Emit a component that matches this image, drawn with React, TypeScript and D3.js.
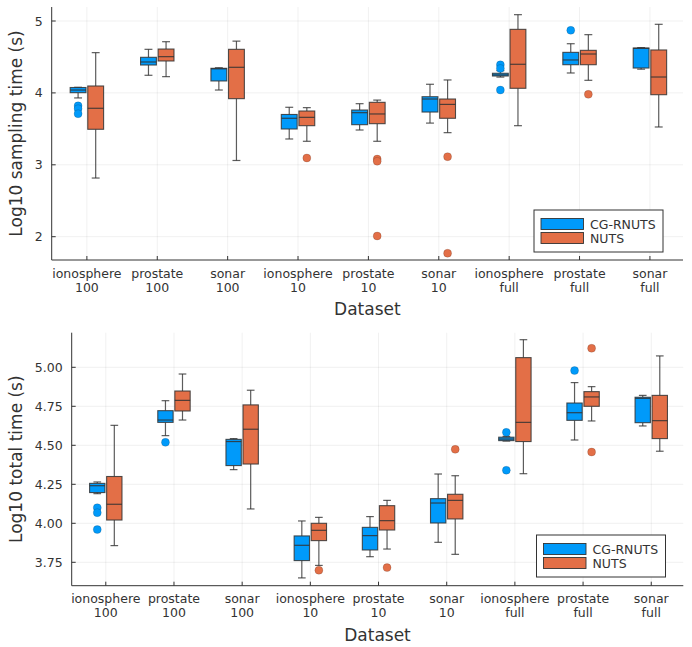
import React from "react";
import * as d3 from "d3";

// ---------- data ----------
const datasets = ["ionosphere", "prostate", "sonar", "ionosphere", "prostate", "sonar", "ionosphere", "prostate", "sonar"];
const sizes = ["100", "100", "100", "10", "10", "10", "full", "full", "full"];
const seriesNames = ["CG-RNUTS", "NUTS"];
const seriesColors = ["#009AFA", "#E36F47"];

// [whiskerLow, q1, median, q3, whiskerHigh]
const samplingCG: number[][] = [
  [3.93, 4.003, 4.04, 4.075, 4.078],
  [4.245, 4.388, 4.43, 4.495, 4.606],
  [4.04, 4.166, 4.335, 4.342, 4.35],
  [3.359, 3.498, 3.647, 3.70, 3.80],
  [3.484, 3.558, 3.725, 3.762, 3.85],
  [3.58, 3.734, 3.915, 3.947, 4.12],
  [4.22, 4.235, 4.25, 4.273, 4.31],
  [4.277, 4.392, 4.458, 4.564, 4.684],
  [4.33, 4.346, 4.62, 4.624, 4.63],
];
const samplingCGOut: number[][] = [
  [3.82, 3.78, 3.71], [], [], [], [], [], [4.39, 4.34, 4.04], [4.87], [],
];
const samplingNUTS: number[][] = [
  [2.816, 3.494, 3.786, 4.096, 4.56],
  [4.226, 4.444, 4.504, 4.61, 4.712],
  [3.06, 3.92, 4.356, 4.606, 4.72],
  [3.327, 3.544, 3.66, 3.748, 3.795],
  [3.327, 3.572, 3.707, 3.869, 3.90],
  [3.447, 3.647, 3.84, 3.915, 4.18],
  [3.544, 4.064, 4.398, 4.884, 5.088],
  [4.175, 4.392, 4.541, 4.592, 4.81],
  [3.526, 3.975, 4.221, 4.597, 4.954],
];
const samplingNUTSOut: number[][] = [
  [], [], [], [3.095], [3.08, 3.05, 2.01], [3.113, 1.77], [], [3.98], [],
];

const totalCG: number[][] = [
  [4.19, 4.197, 4.241, 4.256, 4.265],
  [4.562, 4.647, 4.662, 4.722, 4.786],
  [4.344, 4.37, 4.524, 4.538, 4.543],
  [3.65, 3.761, 3.859, 3.919, 4.015],
  [3.786, 3.829, 3.921, 3.974, 4.043],
  [3.878, 4.002, 4.13, 4.158, 4.316],
  [4.527, 4.53, 4.54, 4.552, 4.557],
  [4.534, 4.66, 4.709, 4.771, 4.902],
  [4.624, 4.645, 4.801, 4.808, 4.82],
];
const totalCGOut: number[][] = [
  [4.10, 4.068, 3.96], [4.519], [], [], [], [], [4.583, 4.34], [4.979], [],
];
const totalNUTS: number[][] = [
  [3.857, 4.021, 4.122, 4.30, 4.628],
  [4.662, 4.72, 4.788, 4.848, 4.957],
  [4.092, 4.38, 4.603, 4.759, 4.853],
  [3.73, 3.889, 3.955, 4.0, 4.038],
  [3.835, 3.957, 4.017, 4.113, 4.147],
  [3.801, 4.028, 4.147, 4.186, 4.305],
  [4.318, 4.524, 4.647, 5.062, 5.177],
  [4.656, 4.75, 4.81, 4.844, 4.876],
  [4.462, 4.543, 4.658, 4.82, 5.073],
];
const totalNUTSOut: number[][] = [
  [], [], [], [3.699], [3.716], [4.474], [], [5.122, 4.457], [],
];

const samplingTicks = [2, 3, 4, 5];
const totalTicks = [3.75, 4.0, 4.25, 4.5, 4.75, 5.0];

const FONT = "DejaVu Sans, sans-serif";
const TEXT = "#333";

type PanelProps = {
  left: number; right: number; top: number; bottom: number;
  yDomain: [number, number];
  yTicks: number[];
  tickFmt: (v: number) => string;
  yLabel: string;
  stats: number[][][];
  outliers: number[][][];
  legendBox: [number, number];
};

function Panel(p: PanelProps) {
  const x = d3.scaleLinear().domain([0.5, 9.47]).range([p.left, p.right]);
  const y = d3.scaleLinear().domain(p.yDomain).range([p.bottom, p.top]);
  const step = x(2) - x(1);
  const bw = step * 0.225;
  const off = step * 0.125;
  const cats = d3.range(1, 10);
  const [lx, ly] = p.legendBox;
  return (
    <g>
      {/* grid */}
      {cats.map((c) => (
        <line key={"gx" + c} x1={x(c)} x2={x(c)} y1={p.top} y2={p.bottom} stroke="#000" strokeOpacity={0.1} strokeWidth={0.6} />
      ))}
      {p.yTicks.map((t) => (
        <line key={"gy" + t} x1={p.left} x2={p.right} y1={y(t)} y2={y(t)} stroke="#000" strokeOpacity={0.1} strokeWidth={0.6} />
      ))}
      {/* boxes */}
      {p.stats.map((ser, si) =>
        ser.map((s, ci) => {
          const cx = x(ci + 1) + (si === 0 ? -off : off);
          const [wl, q1, md, q3, wh] = s;
          const cap = bw / 2;
          return (
            <g key={"b" + si + "-" + ci}>
              <line x1={cx} x2={cx} y1={y(q3)} y2={y(wh)} stroke="#333" strokeOpacity={0.8} strokeWidth={1.2} />
              <line x1={cx} x2={cx} y1={y(q1)} y2={y(wl)} stroke="#333" strokeOpacity={0.8} strokeWidth={1.2} />
              <line x1={cx - cap / 2} x2={cx + cap / 2} y1={y(wh)} y2={y(wh)} stroke="#333" strokeOpacity={0.8} strokeWidth={1.2} />
              <line x1={cx - cap / 2} x2={cx + cap / 2} y1={y(wl)} y2={y(wl)} stroke="#333" strokeOpacity={0.8} strokeWidth={1.2} />
              <rect x={cx - bw / 2} y={y(q3)} width={bw} height={Math.max(y(q1) - y(q3), 0.5)} fill={seriesColors[si]} stroke="#333" strokeOpacity={0.85} strokeWidth={1.1} />
              <line x1={cx - bw / 2} x2={cx + bw / 2} y1={y(md)} y2={y(md)} stroke="#333" strokeOpacity={0.85} strokeWidth={1.2} />
              {p.outliers[si][ci].map((o, oi) => (
                <circle key={oi} cx={cx} cy={y(o)} r={4} fill={seriesColors[si]} stroke="#000" strokeOpacity={0.25} strokeWidth={0.6} />
              ))}
            </g>
          );
        })
      )}
      {/* axes */}
      <line x1={p.left} x2={p.left} y1={p.top} y2={p.bottom} stroke="#333" strokeWidth={1} />
      <line x1={p.left} x2={p.right} y1={p.bottom} y2={p.bottom} stroke="#333" strokeWidth={1} />
      {cats.map((c) => (
        <line key={"tx" + c} x1={x(c)} x2={x(c)} y1={p.bottom} y2={p.bottom - 4} stroke="#333" strokeWidth={1} />
      ))}
      {p.yTicks.map((t) => (
        <line key={"ty" + t} x1={p.left} x2={p.left + 4} y1={y(t)} y2={y(t)} stroke="#333" strokeWidth={1} />
      ))}
      {cats.map((c, i) => (
        <text key={"lx" + c} x={x(c)} textAnchor="middle" fontFamily={FONT} fontSize={12.5} fill={TEXT}>
          <tspan x={x(c)} y={p.bottom + 17.5}>{datasets[i]}</tspan>
          <tspan x={x(c)} y={p.bottom + 31.5}>{sizes[i]}</tspan>
        </text>
      ))}
      {p.yTicks.map((t) => (
        <text key={"ly" + t} x={p.left - 9} y={y(t)} dy="0.36em" textAnchor="end" fontFamily={FONT} fontSize={12.5} fill={TEXT}>
          {p.tickFmt(t)}
        </text>
      ))}
      <text x={(p.left + p.right) / 2} y={p.bottom + 55} textAnchor="middle" fontFamily={FONT} fontSize={17} fill={TEXT}>Dataset</text>
      <text transform={`translate(16,${(p.top + p.bottom) / 2}) rotate(-90)`} textAnchor="middle" dy="0.35em" fontFamily={FONT} fontSize={17} fill={TEXT}>{p.yLabel}</text>
      {/* legend */}
      <rect x={lx} y={ly} width={129} height={42} fill="#fff" stroke="#333" strokeWidth={1} />
      {seriesNames.map((n, i) => (
        <g key={n}>
          <rect x={lx + 7} y={ly + 8.5 + i * 14} width={42.5} height={11} fill={seriesColors[i]} stroke="#333" strokeWidth={0.9} />
          <text x={lx + 56} y={ly + 18.5 + i * 14} fontFamily={FONT} fontSize={12.5} fill={TEXT}>{n}</text>
        </g>
      ))}
    </g>
  );
}

export default function App() {
  return (
    <svg width={692} height={647} style={{ position: "absolute", left: 0, top: 0, background: "#fff" }}>
      <rect x={0} y={0} width={692} height={647} fill="#fff" />
      <Panel
        left={51.7} right={683} top={7} bottom={260}
        yDomain={[5 - (260 - 21) / 71.9, 5 + 14 / 71.9]}
        yTicks={samplingTicks}
        tickFmt={(v) => d3.format("d")(v)}
        yLabel="Log10 sampling time (s)"
        stats={[samplingCG, samplingNUTS]}
        outliers={[samplingCGOut, samplingNUTSOut]}
        legendBox={[534, 210]}
      />
      <Panel
        left={71.7} right={683.3} top={332.7} bottom={585.7}
        yDomain={[5 - (585.7 - 367.3) / 156, 5 + (367.3 - 332.7) / 156]}
        yTicks={totalTicks}
        tickFmt={(v) => d3.format(".2f")(v)}
        yLabel="Log10 total time (s)"
        stats={[totalCG, totalNUTS]}
        outliers={[totalCGOut, totalNUTSOut]}
        legendBox={[536.5, 535]}
      />
    </svg>
  );
}
